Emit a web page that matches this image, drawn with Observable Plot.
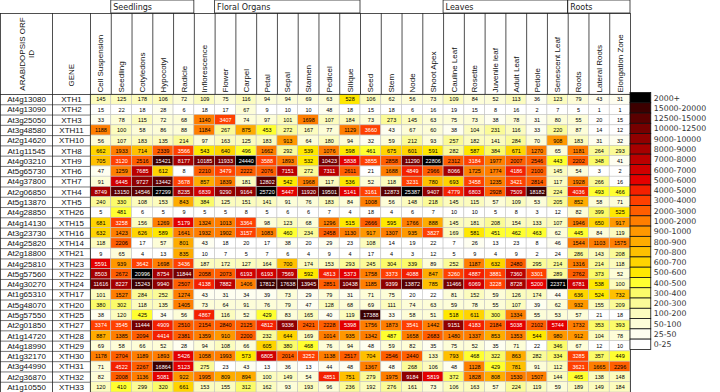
<!DOCTYPE html>
<html><head><meta charset="utf-8">
<script src="https://cdn.jsdelivr.net/npm/d3@7"></script>
<script src="https://cdn.jsdelivr.net/npm/@observablehq/plot@0.6"></script>
<style>body{margin:0;background:#fff}#chart{width:720px;height:392px;position:relative}</style>
</head><body><div id="chart"></div>
<script>
const tissues = ["Cell Suspension","Seedling","Cotyledons","Hypocotyl","Radicle","Inflorescence","Flower","Carpel","Petal","Sepal","Stamen","Pedicel","Silique","Seed","Stem","Node","Shoot Apex","Cauline Leaf","Rosette","Juvenile leaf","Adult Leaf","Petiole","Senescent Leaf","Roots","Lateral Roots","Elongation Zone"];
const groupNames = ["Seedlings","Floral Organs","Leaves","Roots"];
const groupFirst = ["Seedling","Flower","Cauline Leaf","Roots"];
const groupLast  = ["Radicle","Silique","Senescent Leaf","Elongation Zone"];
const orfs = ["At4g13080","At4g13090","At3g25050","At3g48580","At2g14620","At1g11545","At4g03210","At5g65730","At4g37800","At2g06850","At5g13870","At4g28850","At4g14130","At3g23730","At4g25820","At2g18800","At4g25810","At5g57560","At4g30270","At1g65310","At5g48070","At5g57550","At2g01850","At1g14720","At4g18990","At1g32170","At3g44990","At2g36870","At1g10550"];
const genes = ["XTH1","XTH2","XTH3","XTH11","XTH10","XTH8","XTH9","XTH6","XTH7","XTH4","XTH5","XTH26","XTH15","XTH16","XTH14","XTH21","XTH23","XTH22","XTH24","XTH17","XTH20","XTH25","XTH27","XTH28","XTH29","XTH30","XTH31","XTH32","XTH33"];

const XTH1  = [145,125,178,106,72,109,75,116,94,94,69,63,528,106,62,56,73,109,84,52,113,36,123,79,43,31];
const XTH2  = [15,22,18,28,6,18,17,67,9,10,10,48,18,15,18,6,16,19,15,8,16,2,7,5,1,1];
const XTH3  = [33,78,115,72,68,1140,3407,74,97,101,1698,107,184,73,273,145,63,75,73,38,78,31,80,55,20,15];
const XTH11 = [1188,100,58,86,88,1184,267,875,453,272,167,77,1129,3660,43,67,60,38,104,231,116,33,220,87,14,12];
const XTH10 = [56,107,183,135,214,97,163,125,183,913,64,180,94,32,59,212,93,257,182,141,284,70,908,183,31,32];
const XTH8  = [662,1933,714,2339,3566,543,640,496,1662,292,539,1076,598,461,675,601,591,282,587,384,671,1270,65,1181,264,293];
const XTH9  = [705,3120,2516,15421,8177,10185,11933,24440,3588,1893,532,10423,5838,3855,2858,11290,22806,2312,3184,1977,2007,2546,443,2202,348,41];
const XTH6  = [47,1259,7685,612,8,2210,3479,2222,2076,7151,272,7311,2611,21,1688,4849,2966,8066,1725,1774,4186,2100,145,54,3,2];
const XTH7  = [91,6445,9727,13442,3678,857,1839,181,12802,542,1968,117,536,52,118,3231,780,693,3458,1235,3421,2814,117,1928,266,16];
const XTH4  = [8749,13150,14546,27299,8235,6839,9290,9164,25720,5447,11920,19501,5141,3161,12873,25387,9407,4779,6803,2928,7509,18182,224,4036,493,466];
const XTH5  = [240,330,108,153,843,384,125,151,141,91,76,183,84,1008,56,148,218,145,115,57,109,53,205,852,58,71];
const XTH26 = [5,481,6,5,9,5,5,8,5,6,6,7,4,18,4,6,7,10,10,5,8,3,12,82,399,525];
const XTH15 = [681,3258,156,1269,5179,1324,1013,3364,98,123,68,1296,515,2666,595,1766,888,145,181,208,154,133,107,1946,650,917];
const XTH16 = [632,1423,626,589,1641,1932,1902,3157,1083,460,234,2458,1130,917,1307,935,3827,169,581,451,462,463,62,445,84,119];
const XTH14 = [118,2206,17,57,801,43,18,20,17,38,20,29,23,108,14,19,22,7,26,13,23,8,46,1544,1103,1575];
const XTH21 = [9,65,4,13,835,10,7,5,7,6,4,9,4,17,4,3,12,5,9,4,9,2,24,286,143,208];
const XTH23 = [5591,939,3642,1698,3436,187,172,127,164,700,174,153,293,245,304,339,89,252,1187,632,2480,295,214,1316,214,118];
const XTH22 = [8503,2672,20996,8754,11844,2058,2073,6193,6193,7569,592,4813,5373,1758,3373,4088,847,3260,4887,3881,7360,3301,289,2762,373,52];
const XTH24 = [11616,8227,15243,9940,2507,4138,7882,1406,17812,17638,13945,2851,10438,1185,9399,13872,785,11466,6069,3228,8728,5200,22371,6781,538,100];
const XTH17 = [101,1527,284,252,1274,43,31,34,39,73,29,79,31,71,75,20,22,81,152,59,126,174,44,636,524,732];
const XTH20 = [380,302,118,135,1405,73,64,91,76,79,47,128,68,69,111,74,63,59,78,55,107,39,62,932,155,209];
const XTH25 = [38,120,425,34,56,4867,116,52,429,83,165,40,119,17388,33,58,51,518,611,300,1334,55,53,57,21,18];
const XTH27 = [3374,3545,11444,4909,2510,2154,2840,2125,4812,9336,2421,2228,5398,1756,1873,3541,1442,9151,4183,2184,5038,2102,5744,1732,353,393];
const XTH28 = [887,1385,2094,4414,2381,1359,910,2200,232,644,169,1014,935,1342,487,1658,2683,1480,1337,853,1353,544,980,912,104,78];
const XTH29 = [69,58,66,52,28,94,108,66,605,380,468,76,94,48,59,82,35,75,52,35,71,22,346,67,12,10];
const XTH30 = [1178,2704,1189,1893,5426,1058,1993,573,6805,2014,3252,1138,2517,704,2546,2440,133,793,468,322,863,282,334,3285,357,449];
const XTH31 = [71,4522,2267,16864,5123,275,23,43,13,36,13,44,48,1367,48,268,106,48,1128,429,781,91,112,3621,1665,2296];
const XTH32 = [82,2008,1136,5081,922,1995,809,894,100,149,54,4851,751,279,1975,9184,5819,372,1828,808,1530,1507,144,465,138,148];
const XTH33 = [120,410,299,320,661,153,155,312,162,93,193,96,236,192,276,161,73,106,163,57,224,119,59,189,149,184];

const legendLabels = ["2000+","15000-20000","12500-15000","10000-12500","9000-10000","8000-9000","7000-8000","6000-7000","5000-6000","4000-5000","3000-4000","2000-3000","1000-2000","900-1000","800-900","700-800","600-700","500-600","400-500","300-400","200-300","100-200","50-100","25-50","0-25"];
const legendLower = [20000,15000,12500,10000,9000,8000,7000,6000,5000,4000,3000,2000,1000,900,800,700,600,500,400,300,200,100,50,25,0];
const thresholds = [25,50,100,200,300,400,500,600,700,800,900,1000,2000,3000,4000,5000,6000,7000,8000,9000,10000,12500,15000,20000];
const palette = ["#ffffff","#fefef0","#fdfdd8","#fcfcbe","#fbfb98","#fbfb6a","#ffff30","#ffe800","#ffd400","#ffc000","#ffac00","#ff9800","#ff7e00","#ff5e00","#ff4000","#f42000","#e40000","#d00000","#bb0000","#a60000","#900000","#760000","#5a0000","#3c0000","#000000"];

const expression = [XTH1,XTH2,XTH3,XTH11,XTH10,XTH8,XTH9,XTH6,XTH7,XTH4,XTH5,XTH26,XTH15,XTH16,XTH14,XTH21,XTH23,XTH22,XTH24,XTH17,XTH20,XTH25,XTH27,XTH28,XTH29,XTH30,XTH31,XTH32,XTH33];
const cells = expression.flatMap((vals, r) => vals.map((v, c) => ({row: r, col: c, value: v})));
const groups = groupNames.map((g, i) => ({name: g, start: tissues.indexOf(groupFirst[i]), end: tissues.indexOf(groupLast[i]) + 1}));
const legend = legendLabels.map((l, i) => ({label: l, lower: legendLower[i], i}));

// layout (in pixels) converted to column/row units
const W = 720, H = 392, ML = 90, MR = 90, MT = 94;
const COLW = (W - ML - MR) / tissues.length;
const ROWH = (H - MT) / genes.length;
const ORF_X0 = -ML / COLW, GENE_X0 = -38 / COLW;
const HEAD_Y0 = -(MT - 13) / ROWH, GROUP_Y0 = -MT / ROWH;
const nC = tissues.length, nR = genes.length;
const SANS = "'Liberation Sans', Arial, sans-serif", DV = "'DejaVu Sans', Verdana, sans-serif";

const plot = Plot.plot({
  width: W, height: H, marginLeft: ML, marginRight: MR, marginTop: MT, marginBottom: 0,
  x: {domain: [0, nC], axis: null},
  y: {domain: [0, nR], reverse: true, axis: null},
  color: {type: "threshold", domain: thresholds, range: palette},
  style: {fontFamily: SANS, background: "white", overflow: "visible"},
  marks: [
    Plot.rect(cells, {x1: "col", x2: d => d.col + 1, y1: "row", y2: d => d.row + 1, fill: "value", stroke: "#c4c4c4", strokeWidth: 0.6}),
    Plot.text(cells.filter(d => d.value < 3000), {x: d => d.col + 0.5, y: d => d.row + 0.5, text: d => String(d.value), fill: "black", fontSize: 5.5}),
    Plot.text(cells.filter(d => d.value >= 3000), {x: d => d.col + 0.5, y: d => d.row + 0.5, text: d => String(d.value), fill: "white", fontSize: 5.5}),
    // row labels
    Plot.ruleY(d3.range(1, nR + 1), {x1: ORF_X0, x2: 0, stroke: "#777", strokeWidth: 1}),
    Plot.text(orfs, {x: (ORF_X0 + GENE_X0) / 2, y: (d, i) => i + 0.5, text: d => d, fontSize: 8, fill: "#111"}),
    Plot.text(genes, {x: GENE_X0 / 2, y: (d, i) => i + 0.5, text: d => d, fontSize: 8, fill: "#111"}),
    Plot.ruleX([ORF_X0, GENE_X0, 0], {y1: HEAD_Y0, y2: nR, stroke: "#222", strokeWidth: 0.8}),
    Plot.ruleX([nC], {y1: HEAD_Y0, y2: nR, stroke: "#222", strokeWidth: 0.8}),
    // header
    Plot.ruleX(d3.range(1, nC), {y1: HEAD_Y0, y2: 0, stroke: "#222", strokeWidth: 0.8}),
    Plot.ruleY([HEAD_Y0, 0], {x1: ORF_X0, x2: nC, stroke: "#222", strokeWidth: 0.8}),
    Plot.text(tissues, {x: (d, i) => i + 0.5, y: 0, dy: -2, rotate: -90, textAnchor: "start", text: d => d, fontSize: 8, fill: "#111"}),
    Plot.text(["ARABIDOPSIS ORF\nID"], {x: (ORF_X0 + GENE_X0) / 2, y: HEAD_Y0 / 2, rotate: -90, textAnchor: "middle", lineAnchor: "middle", lineHeight: 1.1, text: d => d, fontSize: 8, fill: "#111"}),
    Plot.text(["GENE"], {x: GENE_X0 / 2, y: 0, dy: -8, rotate: -90, textAnchor: "start", text: d => d, fontSize: 8, fill: "#111"}),
    Plot.rect(groups, {x1: "start", x2: "end", y1: GROUP_Y0, y2: HEAD_Y0, fill: "none", stroke: "#222", strokeWidth: 0.8}),
    Plot.text(groups, {x: "start", y: (GROUP_Y0 + HEAD_Y0) / 2, dx: 2, textAnchor: "start", text: "name", fontSize: 8, fontFamily: DV, fill: "#222"}),
    // legend
    Plot.rect(legend, {x1: () => nC, x2: () => nC + 1, y1: "i", y2: d => d.i + 1, dy: -1.5, fill: "lower", stroke: "#111", strokeWidth: 0.8}),
    Plot.text(legend, {x: () => nC + 1, y: d => d.i + 0.5, dy: -1.5, dx: 2.5, textAnchor: "start", text: "label", fontSize: 7.8, fontFamily: DV, fill: "#333"})
  ]
});
document.getElementById("chart").appendChild(plot);
</script>
</body></html>
